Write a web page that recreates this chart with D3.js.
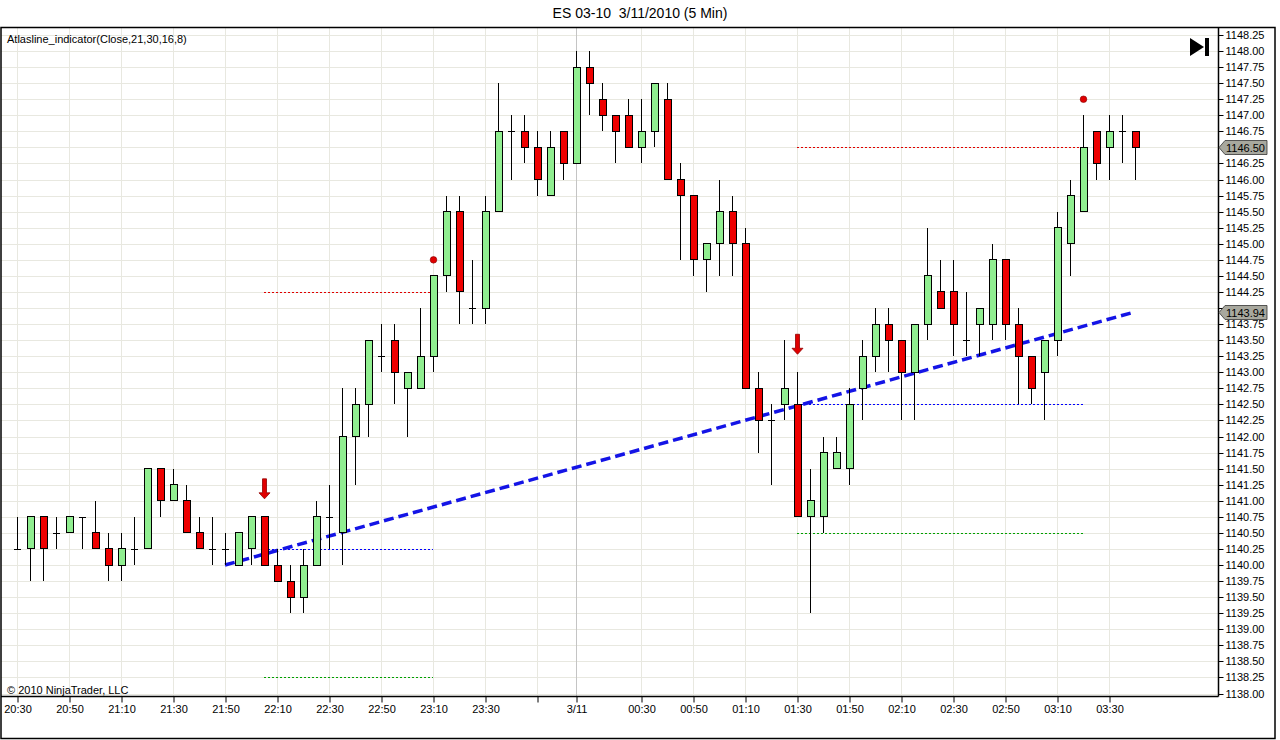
<!DOCTYPE html>
<html>
<head>
<meta charset="utf-8">
<script src="https://cdn.jsdelivr.net/npm/d3@7"></script>
<style>
  body { margin: 0; background: #fff; }
  text { font-family: "Liberation Sans", Arial, sans-serif; }
</style>
</head>
<body>
<div id="chart"></div>
<script>
// bar index 0 = 20:30 bar, 5 min each
const opens = [
  1140.25, 1140.25, 1140.75, 1140.5, 1140.5, 1140.75, 1140.5, 1140.25, 1140.0, 1140.25,
  1140.25, 1141.5, 1141.0, 1141.0, 1140.5, 1140.25, 1140.25, 1140.0, 1140.25, 1140.75,
  1140.0, 1139.75, 1139.5, 1140.0, 1140.75, 1140.5, 1142.0, 1142.5, 1143.25, 1143.5,
  1142.75, 1142.75, 1143.25, 1144.5, 1145.5, 1144.0, 1144.0, 1145.5, 1146.75, 1146.75,
  1146.5, 1145.75, 1146.75, 1146.25, 1147.75, 1147.25, 1147.0, 1147.0, 1146.5, 1146.75,
  1147.25, 1146.0, 1145.75, 1144.75, 1145.0, 1145.5, 1145.0, 1142.75, 1142.25, 1142.5,
  1142.5, 1140.75, 1140.75, 1141.5, 1141.5, 1142.75, 1143.25, 1143.75, 1143.5, 1143.0,
  1143.75, 1144.25, 1144.25, 1143.5, 1143.75, 1143.75, 1144.75, 1143.75, 1143.25, 1143.0,
  1143.5, 1145.0, 1145.5, 1146.75, 1146.5, 1146.75, 1146.75
];
const highs = [
  1140.75, 1140.75, 1140.75, 1140.75, 1140.75, 1140.75, 1141.0, 1140.5, 1140.5, 1140.75,
  1141.5, 1141.5, 1141.5, 1141.25, 1140.75, 1140.75, 1140.5, 1140.5, 1140.75, 1140.75,
  1140.25, 1140.0, 1140.25, 1141.0, 1141.25, 1142.75, 1142.75, 1143.5, 1143.75, 1143.75,
  1143.0, 1144.0, 1144.5, 1145.75, 1145.75, 1144.75, 1145.75, 1147.5, 1147.0, 1147.0,
  1146.75, 1146.75, 1146.75, 1148.0, 1148.0, 1147.5, 1147.0, 1147.25, 1147.25, 1147.5,
  1147.5, 1146.25, 1145.75, 1145.0, 1146.0, 1145.75, 1145.25, 1143.0, 1142.5, 1143.5,
  1143.0, 1141.5, 1142.0, 1142.0, 1142.75, 1143.5, 1144.0, 1144.0, 1143.5, 1143.75,
  1145.25, 1144.75, 1144.75, 1144.25, 1144.0, 1145.0, 1144.75, 1144.0, 1143.25, 1143.5,
  1145.5, 1146.0, 1147.0, 1146.75, 1147.0, 1147.0, 1146.75
];
const lows = [
  1140.25, 1139.75, 1139.75, 1140.25, 1140.5, 1140.25, 1140.25, 1139.75, 1139.75, 1140.0,
  1140.25, 1140.75, 1141.0, 1140.5, 1140.25, 1140.0, 1140.0, 1140.0, 1140.0, 1140.0,
  1139.75, 1139.25, 1139.25, 1140.0, 1140.25, 1140.0, 1141.25, 1142.0, 1143.0, 1142.5,
  1142.0, 1142.75, 1143.0, 1144.25, 1143.75, 1143.75, 1143.75, 1145.5, 1146.0, 1146.25,
  1145.75, 1145.75, 1146.0, 1146.25, 1147.0, 1146.75, 1146.25, 1146.5, 1146.25, 1146.5,
  1146.0, 1144.75, 1144.5, 1144.25, 1144.5, 1144.5, 1142.75, 1141.75, 1141.25, 1142.25,
  1140.75, 1139.25, 1140.5, 1141.5, 1141.25, 1142.25, 1143.0, 1143.0, 1142.25, 1142.25,
  1143.5, 1144.0, 1143.25, 1143.25, 1143.25, 1143.5, 1143.5, 1142.5, 1142.5, 1142.25,
  1143.25, 1144.5, 1145.5, 1146.0, 1146.0, 1146.25, 1146.0
];
const closes = [
  1140.25, 1140.75, 1140.25, 1140.5, 1140.75, 1140.75, 1140.25, 1140.0, 1140.25, 1140.25,
  1141.5, 1141.0, 1141.25, 1140.5, 1140.25, 1140.25, 1140.25, 1140.5, 1140.75, 1140.0,
  1139.75, 1139.5, 1140.0, 1140.75, 1140.75, 1142.0, 1142.5, 1143.5, 1143.25, 1143.0,
  1143.0, 1143.25, 1144.5, 1145.5, 1144.25, 1144.0, 1145.5, 1146.75, 1146.75, 1146.5,
  1146.0, 1146.5, 1146.25, 1147.75, 1147.5, 1147.0, 1146.75, 1146.5, 1146.75, 1147.5,
  1146.0, 1145.75, 1144.75, 1145.0, 1145.5, 1145.0, 1142.75, 1142.25, 1142.25, 1142.75,
  1140.75, 1141.0, 1141.75, 1141.75, 1142.5, 1143.25, 1143.75, 1143.5, 1143.0, 1143.75,
  1144.5, 1144.0, 1143.75, 1143.5, 1144.0, 1144.75, 1143.75, 1143.25, 1142.75, 1143.5,
  1145.25, 1145.75, 1146.5, 1146.25, 1146.75, 1146.75, 1146.5
];

// x axis ticks (bar index) and their labels, '' = tick without label
const tickBars = [0, 4, 8, 12, 16, 20, 24, 28, 32, 36, 40, 43, 48, 52, 56, 60, 64, 68, 72, 76, 80, 84];
const tickLabels = ['20:30', '20:50', '21:10', '21:30', '21:50', '22:10', '22:30', '22:50', '23:10', '23:30',
  '', '3/11', '00:30', '00:50', '01:10', '01:30', '01:50', '02:10', '02:30', '02:50', '03:10', '03:30'];
const dayBreakBar = 43;
const priceTicks = d3.range(1138, 1148.26, 0.25);

// indicator output
const trendBars = [16, 86];
const trendValues = [1140.0, 1143.94];
const arrowBars = [19, 60];
const dotBars = [32, 82];
const dotValues = [1144.75, 1147.25];
const levelFrom = [19, 19, 19, 60, 60, 60];
const levelTo = [32, 32, 32, 82, 82, 82];
const levelValues = [1144.25, 1140.25, 1138.25, 1146.5, 1142.5, 1140.5];
const levelKinds = ['upper', 'mid', 'lower', 'upper', 'mid', 'lower'];
const markerValues = [1146.5, 1143.94];

class CandleChart {
  constructor (options) {
    this.width = options.width;
    this.height = options.height;
    this.left = 1;
    this.top = 27;
    this.right = 1218;
    this.bottom = 696;

    this.xScale = d3.scaleLinear().domain([0, 86]).range([17, 17 + 13 * 86]);
    this.yScale = d3.scaleLinear().domain([1138, 1148.25]).range([693.5, 35]);
    this.levelColor = { upper: '#e00000', mid: '#0000ff', lower: '#00a000' };

    this.svg = this.createSvgElement(options.elQuery);
    this.createGrid();
    this.createLevels();
    this.createTrendLine();
    this.createCandles();
    this.createSignals();
    this.createAxes();
    this.createMarkers();
    this.createFrame();
    this.createTexts();
  }

  createSvgElement (elQuery) {
    return d3.select(elQuery)
      .append('svg')
      .attr('width', this.width)
      .attr('height', this.height);
  }

  py (v) {
    return Math.round(this.yScale(v)) + 0.5;
  }

  createGrid () {
    const g = this.svg.append('g')
      .attr('class', 'grid')
      .attr('shape-rendering', 'crispEdges');

    g.selectAll('line.h')
      .data(priceTicks)
      .enter()
        .append('line')
        .attr('class', 'h')
        .attr('x1', this.left)
        .attr('x2', this.right)
        .attr('y1', d => this.py(d))
        .attr('y2', d => this.py(d))
        .attr('stroke', '#e8e8e0');

    g.selectAll('line.v')
      .data(tickBars)
      .enter()
        .append('line')
        .attr('class', 'v')
        .attr('x1', d => this.xScale(d) + 0.5)
        .attr('x2', d => this.xScale(d) + 0.5)
        .attr('y1', this.top)
        .attr('y2', this.bottom)
        .attr('stroke', d => d === dayBreakBar ? '#c4c4c4' : '#e8e8e0');
  }

  createLevels () {
    this.svg.append('g')
      .attr('class', 'levels')
      .attr('shape-rendering', 'crispEdges')
      .selectAll('line')
      .data(levelValues)
      .enter()
        .append('line')
        .attr('x1', (d, i) => this.xScale(levelFrom[i]))
        .attr('x2', (d, i) => this.xScale(levelTo[i]))
        .attr('y1', d => this.py(d))
        .attr('y2', d => this.py(d))
        .attr('stroke', (d, i) => this.levelColor[levelKinds[i]])
        .attr('stroke-width', 1)
        .attr('stroke-dasharray', '2,2');
  }

  createTrendLine () {
    const pts = trendBars.map((b, i) => [this.xScale(b), this.yScale(trendValues[i])]);
    this.svg.append('path')
      .attr('class', 'trend')
      .attr('d', d3.line()(pts))
      .attr('fill', 'none')
      .attr('stroke', '#1414e6')
      .attr('stroke-width', 3.5)
      .attr('stroke-dasharray', '10,5');
  }

  createCandles () {
    const bars = d3.range(opens.length);
    const g = this.svg.append('g')
      .attr('class', 'candles')
      .attr('shape-rendering', 'crispEdges');

    g.selectAll('line.wick')
      .data(bars)
      .enter()
        .append('line')
        .attr('class', 'wick')
        .attr('x1', i => this.xScale(i) + 0.5)
        .attr('x2', i => this.xScale(i) + 0.5)
        .attr('y1', i => this.yScale(highs[i]))
        .attr('y2', i => this.yScale(lows[i]))
        .attr('stroke', '#000');

    g.selectAll('rect.body')
      .data(bars.filter(i => opens[i] !== closes[i]))
      .enter()
        .append('rect')
        .attr('class', 'body')
        .attr('x', i => this.xScale(i) - 3)
        .attr('y', i => this.yScale(Math.max(opens[i], closes[i])))
        .attr('width', 7)
        .attr('height', i => Math.abs(this.yScale(opens[i]) - this.yScale(closes[i])))
        .attr('fill', i => closes[i] > opens[i] ? '#90ee90' : '#ee0000')
        .attr('stroke', '#000');

    g.selectAll('line.doji')
      .data(bars.filter(i => opens[i] === closes[i]))
      .enter()
        .append('line')
        .attr('class', 'doji')
        .attr('x1', i => this.xScale(i) - 3)
        .attr('x2', i => this.xScale(i) + 4)
        .attr('y1', i => this.py(opens[i]))
        .attr('y2', i => this.py(opens[i]))
        .attr('stroke', '#000');
  }

  createSignals () {
    // down arrows above the signal bars
    this.svg.append('g')
      .attr('class', 'arrows')
      .selectAll('path')
      .data(arrowBars)
      .enter()
        .append('path')
        .attr('transform', b => `translate(${this.xScale(b) + 0.5},${this.yScale(highs[b]) - 18})`)
        .attr('d', 'M-2,-20 L2,-20 L2,-6 L5.5,-6 L0,0 L-5.5,-6 L-2,-6 Z')
        .attr('fill', '#e00000')
        .attr('stroke', '#900000')
        .attr('stroke-width', 0.8);

    this.svg.append('g')
      .attr('class', 'dots')
      .selectAll('circle')
      .data(dotBars)
      .enter()
        .append('circle')
        .attr('cx', b => this.xScale(b) + 0.5)
        .attr('cy', (b, i) => this.yScale(dotValues[i]))
        .attr('r', 3.3)
        .attr('fill', '#e00000')
        .attr('stroke', '#800000')
        .attr('stroke-width', 0.6);
  }

  createAxes () {
    const xAxis = d3.axisBottom(this.xScale)
      .tickValues(tickBars)
      .tickFormat((d, i) => tickLabels[i])
      .tickSizeOuter(0)
      .tickSize(6)
      .tickPadding(3);

    const gx = this.svg.append('g')
      .attr('class', 'axis_x')
      .attr('transform', `translate(0.5,${this.bottom + 0.5})`)
      .call(xAxis);
    gx.select('.domain').remove();
    gx.selectAll('text').style('font-size', '11px').attr('fill', '#000');

    const yAxis = d3.axisRight(this.yScale)
      .tickValues(priceTicks)
      .tickFormat(d3.format('.2f'))
      .tickSizeOuter(0)
      .tickSize(5)
      .tickPadding(2);

    const gy = this.svg.append('g')
      .attr('class', 'axis_y')
      .attr('transform', `translate(${this.right + 0.5},0)`)
      .call(yAxis);
    gy.select('.domain').remove();
    gy.selectAll('.tick').attr('transform', d => `translate(0,${this.py(d)})`);
    gy.selectAll('text').style('font-size', '11px').attr('fill', '#000');

    // labels hidden under the price markers
    gy.selectAll('.tick text')
      .filter(d => markerValues.some(m => Math.abs(this.yScale(m) - this.yScale(d)) < 8))
      .remove();

    // plot area borders
    this.svg.append('line')
      .attr('x1', this.left).attr('x2', this.right + 0.5)
      .attr('y1', this.bottom + 0.5).attr('y2', this.bottom + 0.5)
      .attr('stroke', '#000').attr('stroke-width', 1.5);
    this.svg.append('line')
      .attr('x1', this.right + 0.5).attr('x2', this.right + 0.5)
      .attr('y1', this.top).attr('y2', this.bottom + 0.5)
      .attr('stroke', '#000').attr('stroke-width', 1.5);
  }

  createMarkers () {
    const g = this.svg.append('g')
      .attr('class', 'markers')
      .selectAll('g')
      .data(markerValues)
      .enter()
        .append('g')
        .attr('transform', d => `translate(${this.right + 1},${this.py(d)})`);

    g.append('path')
      .attr('d', 'M0,0 L6,-7 L48,-7 L48,7 L6,7 Z')
      .attr('fill', '#a8a89e')
      .attr('stroke', '#333')
      .attr('stroke-width', 0.8);

    g.append('text')
      .attr('x', 7)
      .attr('y', 4)
      .style('font-size', '11px')
      .text(d => d3.format('.2f')(d));
  }

  createFrame () {
    this.svg.append('rect')
      .attr('x', 1)
      .attr('y', this.top + 0.5)
      .attr('width', 1274)
      .attr('height', 711)
      .attr('fill', 'none')
      .attr('stroke', '#000')
      .attr('stroke-width', 1.5);
  }

  createTexts () {
    this.svg.append('text')
      .attr('x', 640)
      .attr('y', 18)
      .attr('text-anchor', 'middle')
      .style('font-size', '14px')
      .style('white-space', 'pre')
      .text('ES 03-10  3/11/2010 (5 Min)');

    this.svg.append('text')
      .attr('x', 7)
      .attr('y', 43)
      .style('font-size', '11px')
      .text('Atlasline_indicator(Close,21,30,16,8)');

    this.svg.append('text')
      .attr('x', 7)
      .attr('y', 694)
      .style('font-size', '11px')
      .text('© 2010 NinjaTrader, LLC');

    // "go to last bar" icon
    const icon = this.svg.append('g').attr('fill', '#000');
    icon.append('path').attr('d', 'M1190,38 L1204,47 L1190,56 Z');
    icon.append('rect').attr('x', 1205).attr('y', 38).attr('width', 4).attr('height', 18);
  }
}

new CandleChart({ width: 1280, height: 740, elQuery: '#chart' });
</script>
</body>
</html>
